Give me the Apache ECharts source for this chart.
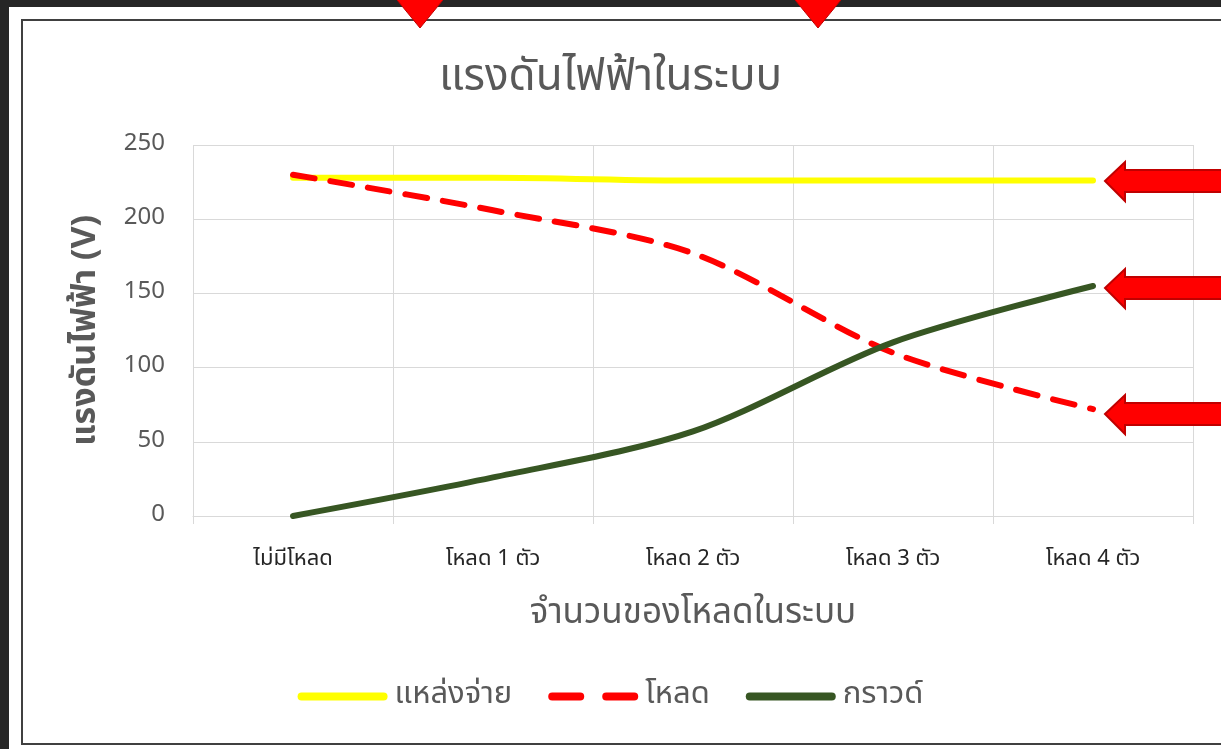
<!DOCTYPE html>
<html>
<head>
<meta charset="utf-8">
<script src="https://cdn.jsdelivr.net/npm/echarts@6/dist/echarts.min.js"></script>
<style>
html,body{margin:0;padding:0;background:#262626;}
#c{width:1221px;height:749px;}
</style>
</head>
<body>
<div id="c"></div>
<script>
const categories = ['ไม่มีโหลด', 'โหลด 1 ตัว', 'โหลด 2 ตัว', 'โหลด 3 ตัว', 'โหลด 4 ตัว'];
const sourceVolt = [228, 228, 226, 226, 226];
const loadVolt = [230, 206, 177, 110, 72];
const groundVolt = [0, 26, 57, 117, 155];
const yTicks = [0, 50, 100, 150, 200, 250];

const FONT = '"Noto Sans Thai", "Noto Sans", Tahoma, sans-serif';
const chart = echarts.init(document.getElementById('c'), null, {renderer: 'canvas'});

function leftArrow(tipY) {
  return {
    type: 'polygon', z: 100,
    shape: {points: [[1105, tipY], [1125, tipY - 19], [1125, tipY - 11], [1230, tipY - 11], [1230, tipY + 11], [1125, tipY + 11], [1125, tipY + 20]]},
    style: {fill: '#ff0000', stroke: '#c00000', lineWidth: 2}
  };
}
function downArrow(tipX) {
  return {
    type: 'polygon', z: 100,
    shape: {points: [[tipX - 27, -5], [tipX + 27, -5], [tipX, 28]]},
    style: {fill: '#ff0000', stroke: '#c00000', lineWidth: 1}
  };
}

const solidIcon = 'path://M4,0 H86 A4,4 0 0 1 86,8 H4 A4,4 0 0 1 4,0 Z';
const dashIcon = 'path://M4,0 H32 A4,4 0 0 1 32,8 H4 A4,4 0 0 1 4,0 Z M58,0 H86 A4,4 0 0 1 86,8 H58 A4,4 0 0 1 58,0 Z';

chart.setOption({
  backgroundColor: '#262626',
  animation: false,
  graphic: [
    {type: 'rect', z: -10, shape: {x: 9, y: 7, width: 1300, height: 800}, style: {fill: '#ffffff'}},
    {type: 'rect', z: -9, shape: {x: 22, y: 20, width: 1300, height: 724}, style: {fill: '#ffffff', stroke: '#404040', lineWidth: 2}},
    leftArrow(181), leftArrow(288), leftArrow(414),
    downArrow(420), downArrow(818)
  ],
  title: {
    text: 'แรงดันไฟฟ้าในระบบ',
    left: 'center', top: 54,
    textStyle: {fontFamily: FONT, fontSize: 44, fontWeight: 'normal', color: '#595959'}
  },
  grid: {left: 193, right: 28, top: 145, bottom: 233, containLabel: false},
  legend: {
    bottom: 32, left: 'center',
    itemWidth: 90, itemHeight: 8, itemGap: 36,
    textStyle: {fontFamily: FONT, fontSize: 31, color: '#595959', padding: [0, 0, 0, 2]},
    data: [
      {name: 'แหล่งจ่าย', icon: solidIcon},
      {name: 'โหลด', icon: dashIcon},
      {name: 'กราวด์', icon: solidIcon}
    ]
  },
  xAxis: {
    type: 'category', data: categories, boundaryGap: true,
    name: 'จำนวนของโหลดในระบบ', nameLocation: 'middle', nameGap: 82,
    nameTextStyle: {fontFamily: FONT, fontSize: 35, color: '#595959'},
    axisLine: {show: true, lineStyle: {color: '#d9d9d9', width: 1}},
    axisTick: {show: true, length: 8, lineStyle: {color: '#d9d9d9'}},
    axisLabel: {fontFamily: FONT, fontSize: 22, color: '#262626', margin: 34},
    splitLine: {show: true, lineStyle: {color: '#d9d9d9', width: 1}}
  },
  yAxis: {
    type: 'value', min: 0, max: 250, interval: 50,
    name: 'แรงดันไฟฟ้า (V)', nameLocation: 'middle', nameGap: 88,
    nameTextStyle: {fontFamily: FONT, fontSize: 34, fontWeight: 'bold', color: '#595959'},
    axisLine: {show: false}, axisTick: {show: false},
    axisLabel: {fontFamily: FONT, fontSize: 24, color: '#595959', margin: 28,
      formatter: v => yTicks.includes(v) ? String(v) : ''},
    splitLine: {show: true, lineStyle: {color: '#d9d9d9', width: 1}}
  },
  series: [
    {name: 'แหล่งจ่าย', type: 'line', data: sourceVolt, smooth: 0.3, symbol: 'none',
      lineStyle: {color: '#ffff00', width: 6, cap: 'round'}, itemStyle: {color: '#ffff00'}},
    {name: 'โหลด', type: 'line', data: loadVolt, smooth: 0.3, symbol: 'none',
      lineStyle: {color: '#ff0000', width: 6, type: [22, 16], cap: 'round'}, itemStyle: {color: '#ff0000'}},
    {name: 'กราวด์', type: 'line', data: groundVolt, smooth: 0.3, symbol: 'none',
      lineStyle: {color: '#375623', width: 6, cap: 'round'}, itemStyle: {color: '#375623'}}
  ]
});
</script>
</body>
</html>
